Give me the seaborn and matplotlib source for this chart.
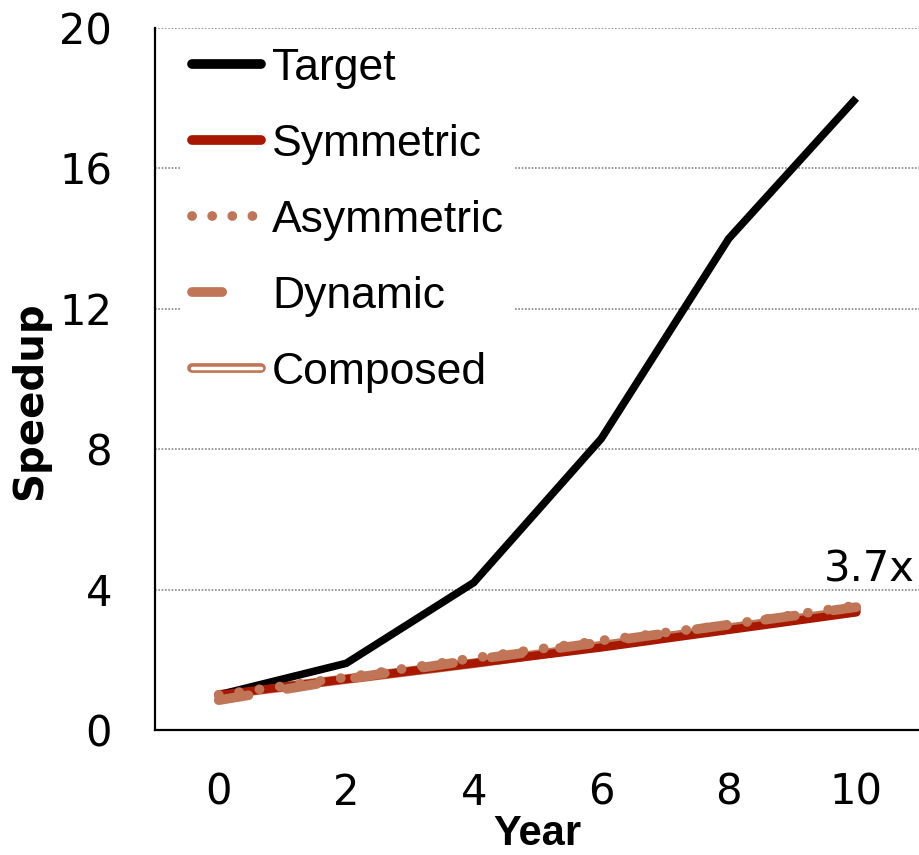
import matplotlib
matplotlib.use("Agg")
import matplotlib.pyplot as plt
import matplotlib.patheffects as pe
from matplotlib.ticker import FixedLocator
import seaborn as sns
import pandas as pd

# ---- data ----
years = ["0", "2", "4", "6", "8", "10"]
target = [1.0, 1.9, 4.2, 8.3, 14.0, 18.0]
symmetric = [1.0, 1.45, 1.9, 2.35, 2.85, 3.35]
asymmetric = [1.0, 1.5, 2.05, 2.55, 3.0, 3.55]
dynamic = [0.85, 1.45, 2.0, 2.5, 3.0, 3.5]
composed = [1.0, 1.45, 1.9, 2.4, 2.9, 3.4]
y_ticks = [0, 4, 8, 12, 16, 20]
annotation = "3.7x"

sns.set_theme(style="white")
plt.rcParams["font.family"] = ["DejaVu Sans"]
plt.rcParams["text.color"] = "black"
plt.rcParams["axes.labelcolor"] = "black"
plt.rcParams["xtick.color"] = "black"
plt.rcParams["ytick.color"] = "black"

BLACK = "#000000"
RED = "#A81800"
TAN = "#BF7556"

fig = plt.figure(figsize=(9.2, 8.55), dpi=100)
ax = fig.add_axes([155 / 920, 1 - 730 / 855, 765 / 920, 702 / 855])

def frame(vals):
    return pd.DataFrame({"Year": years, "Speedup": vals})

# Composed (double line, drawn underneath)
sns.lineplot(data=frame(composed), x="Year", y="Speedup", ax=ax, color="white",
             lw=2.5, solid_capstyle="round", label="Composed", zorder=2,
             path_effects=[pe.Stroke(linewidth=7, foreground=TAN, capstyle="round"), pe.Normal()])
sns.lineplot(data=frame(target), x="Year", y="Speedup", ax=ax, color=BLACK,
             lw=5.5, solid_capstyle="butt", label="Target", zorder=3)
sns.lineplot(data=frame(symmetric), x="Year", y="Speedup", ax=ax, color=RED,
             lw=6, solid_capstyle="round", label="Symmetric", zorder=4)
sns.lineplot(data=frame(dynamic), x="Year", y="Speedup", ax=ax, color=TAN,
             lw=7, linestyle=(0, (3.1, 4.0)), dash_capstyle="round",
             label="Dynamic", zorder=5)
sns.lineplot(data=frame(asymmetric), x="Year", y="Speedup", ax=ax, color=TAN,
             lw=7, linestyle=(0, (0.01, 2.1)), dash_capstyle="round",
             label="Asymmetric", zorder=6)

ax.set_xlim(-0.5, 5.5)
ax.set_ylim(0, 20)
ax.set_xticks(range(len(years)))
ax.set_xticklabels(years)
ax.xaxis.set_minor_locator(FixedLocator([i - 0.5 for i in range(len(years) + 1)]))
ax.tick_params(axis="x", which="major", length=0, pad=30, labelsize=30)
ax.tick_params(axis="x", which="minor", length=11, width=1.6, color="black", direction="out")
ax.set_yticks(y_ticks)
ax.tick_params(axis="y", which="major", length=11, width=1.6, color="black",
               direction="out", pad=20, labelsize=30)

for s in ["top", "right"]:
    ax.spines[s].set_visible(False)
for s in ["left", "bottom"]:
    ax.spines[s].set_color("black")
    ax.spines[s].set_linewidth(1.6)

ax.yaxis.grid(True, linestyle=(0, (1, 1)), color="#888888", linewidth=1.2)
ax.set_axisbelow(True)

ax.set_xlabel("Year", fontsize=30, fontweight="bold", labelpad=0,
              family="Liberation Sans")
ax.set_ylabel("Speedup", fontsize=29, fontweight="bold", labelpad=6)
ax.yaxis.label.set_y(0.469)

ax.text(5.1, 4.56, annotation, fontsize=30, ha="center", va="center", color="black")

handles, labels = ax.get_legend_handles_labels()
order = ["Target", "Symmetric", "Asymmetric", "Dynamic", "Composed"]
hmap = dict(zip(labels, handles))
leg = ax.legend([hmap[k] for k in order], order, loc="upper left",
                bbox_to_anchor=(0.034, 0.988),
                prop={"family": "Liberation Sans", "size": 32}, frameon=True,
                facecolor="white", edgecolor="none", framealpha=1,
                handlelength=1.55, handletextpad=0.25, labelspacing=0.79,
                borderpad=0.25, borderaxespad=0)
leg.set_zorder(10)
for line, name in zip(leg.get_lines(), order):
    if name == "Dynamic":
        line.set_linewidth(7)
        line.set_linestyle((0, (3.1, 10)))
    elif name == "Asymmetric":
        line.set_linewidth(7)
        line.set_linestyle((0, (0.01, 2.06)))
    elif name in ("Target", "Symmetric"):
        line.set_linewidth(7)
        line.set_solid_capstyle("round")

fig.savefig("out.png", dpi=100)
